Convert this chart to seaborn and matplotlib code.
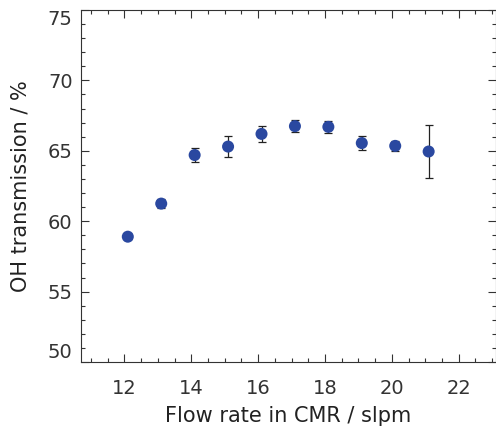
import matplotlib
matplotlib.use("Agg")
import matplotlib.pyplot as plt
from matplotlib.ticker import MultipleLocator
import seaborn as sns
import pandas as pd

flow_rate = [12.1, 13.1, 14.1, 15.1, 16.1, 17.1, 18.1, 19.1, 20.1, 21.1]
transmission = [58.9, 61.25, 64.7, 65.3, 66.2, 66.75, 66.7, 65.55, 65.35, 64.95]
error = [0.15, 0.3, 0.5, 0.75, 0.55, 0.43, 0.45, 0.47, 0.35, 1.85]
y_ticks = [50, 55, 60, 65, 70, 75]
x_ticks = [12, 14, 16, 18, 20, 22]

df = pd.DataFrame({"flow": flow_rate, "trans": transmission, "err": error})

sns.set_style("ticks")
plt.rcParams['font.family'] = ['DejaVu Sans']

fig = plt.figure(figsize=(4.96, 4.26), dpi=100)
ax = fig.add_axes([81/496, 64/426, 414.5/496, 352/426])

ax.errorbar(df["flow"], df["trans"], yerr=df["err"], fmt="none",
            ecolor="#222222", elinewidth=0.9, capsize=3, capthick=0.9, zorder=2)
sns.scatterplot(data=df, x="flow", y="trans", ax=ax, color="#2a48a0",
                s=75, edgecolor="none", zorder=3)

ax.set_xlim(10.7, 23.1)
ax.set_ylim(50, 75)
ax.set_xticks(x_ticks)
ax.set_yticks(y_ticks)
ax.xaxis.set_minor_locator(MultipleLocator(0.5))
ax.yaxis.set_minor_locator(MultipleLocator(1))
ax.tick_params(which="both", direction="in", top=True, right=True, color="#333333", width=0.8)
ax.tick_params(which="major", length=6, labelsize=14, labelcolor="#333333")
ax.tick_params(axis="x", which="major", pad=12)
ax.tick_params(axis="y", which="major", pad=6)
ax.tick_params(which="minor", length=3)
for s in ax.spines.values():
    s.set_color("#333333")
    s.set_linewidth(0.8)

ax.set_xlabel("Flow rate in CMR / slpm", fontsize=15, color="#222222", labelpad=6)
ax.set_ylabel("OH transmission / %", fontsize=15, color="#222222", labelpad=12)

fig.canvas.draw()
yt = ax.yaxis.get_major_ticks()
yt[0].label1.set_verticalalignment("bottom")
yt[-1].label1.set_verticalalignment("top")

fig.savefig("out.png", dpi=100)
